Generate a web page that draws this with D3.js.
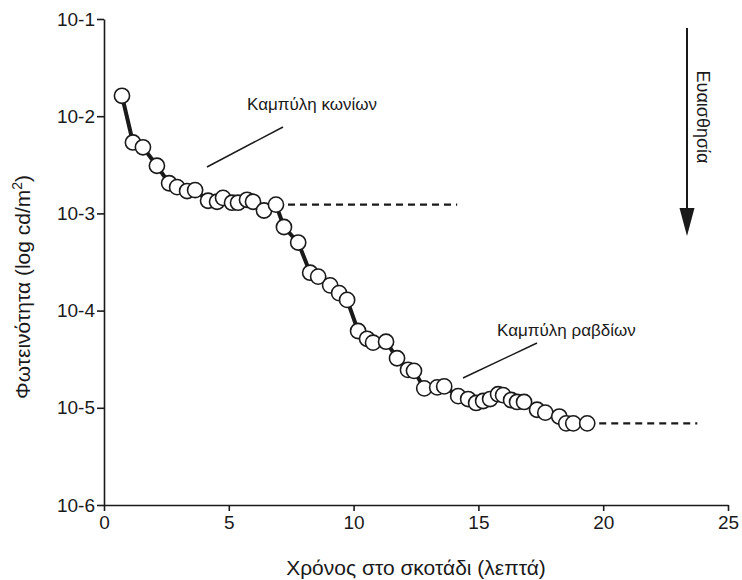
<!DOCTYPE html>
<html>
<head>
<meta charset="utf-8">
<script src="https://cdn.jsdelivr.net/npm/d3@7"></script>
<style>
  html, body { margin: 0; padding: 0; background: #fff; }
  svg { display: block; font-family: "Liberation Sans", Arial, Helvetica, sans-serif; }
</style>
</head>
<body>
<svg id="chart" width="742" height="580"></svg>
<script>
// Time in darkness (minutes)
const minutes = [0.72, 1.16, 1.56, 2.12, 2.61, 2.93, 3.33, 3.65, 4.17, 4.53, 4.77, 5.13, 5.37, 5.73, 5.97, 6.41, 6.89,
  7.21, 7.78, 8.26, 8.58, 9.06, 9.42, 9.74, 10.18, 10.54, 10.78, 11.30, 11.74, 12.18, 12.42, 12.83, 13.35, 13.63,
  14.19, 14.59, 14.91, 15.19, 15.47, 15.79, 15.99, 16.31, 16.55, 16.83, 17.35, 17.68, 18.24, 18.52, 18.80, 19.36];
// Threshold luminance, log10(cd/m²)
const logLuminance = [-1.79, -2.27, -2.32, -2.51, -2.69, -2.73, -2.77, -2.76, -2.87, -2.88, -2.84, -2.89, -2.89, -2.86, -2.88, -2.97, -2.91,
  -3.14, -3.30, -3.61, -3.65, -3.74, -3.82, -3.89, -4.21, -4.29, -4.33, -4.32, -4.49, -4.61, -4.62, -4.80, -4.79, -4.78,
  -4.88, -4.91, -4.95, -4.93, -4.91, -4.86, -4.87, -4.92, -4.94, -4.94, -5.02, -5.05, -5.09, -5.16, -5.16, -5.16];
// Plateau (dashed) lines: [x0, x1, y]
const conePlateau = [6.89, 14.15, -2.91];
const rodPlateau = [19.36, 23.77, -5.16];
// Ticks
const xTicks = [0, 5, 10, 15, 20, 25];
const yTicks = [-6, -5, -4, -3, -2, -1];
const yTickLabels = ["10-6", "10-5", "10-4", "10-3", "10-2", "10-1"];
// Texts
const xTitle = "Χρόνος στο σκοτάδι (λεπτά)";
const yTitleMain = "Φωτεινότητα (log cd/m";
const coneLabel = "Καμπύλη κωνίων";
const rodLabel = "Καμπύλη ραβδίων";
const sensLabel = "Ευαισθησία";

const ink = "#1a1a1a";
const svg = d3.select("#chart");

const x = d3.scaleLinear().domain([0, 25]).range([104, 728]);
const y = d3.scaleLinear().domain([-6, -1]).range([505, 19]);

// Axes
const xAxis = svg.append("g").attr("transform", `translate(0,${y(-6)})`)
  .call(d3.axisBottom(x).tickValues(xTicks).tickSize(6).tickSizeOuter(0).tickPadding(5));
const yAxis = svg.append("g").attr("transform", `translate(${x(0)},0)`)
  .call(d3.axisLeft(y).tickValues(yTicks).tickFormat((d, i) => yTickLabels[i]).tickSize(7).tickSizeOuter(0).tickPadding(2));

[xAxis, yAxis].forEach(g => {
  g.selectAll("path, line").attr("stroke", ink).attr("stroke-width", 1.6);
  g.selectAll("text").attr("fill", ink).style("font-size", "19px");
});

// Axis titles
svg.append("text")
  .attr("x", (x(0) + x(25)) / 2).attr("y", 575)
  .attr("text-anchor", "middle").attr("fill", ink).style("font-size", "21px")
  .text(xTitle);

const yt = svg.append("text")
  .attr("transform", `translate(30,${287}) rotate(-90)`)
  .attr("text-anchor", "middle").attr("fill", ink).style("font-size", "21px");
yt.append("tspan").text(yTitleMain);
yt.append("tspan").attr("dy", -8).style("font-size", "14px").text("2");
yt.append("tspan").attr("dy", 8).text(")");

// Dashed plateau lines
[conePlateau, rodPlateau].forEach(p => {
  svg.append("line")
    .attr("x1", x(p[0])).attr("x2", x(p[1]))
    .attr("y1", y(p[2])).attr("y2", y(p[2]))
    .attr("stroke", ink).attr("stroke-width", 2.2)
    .attr("stroke-dasharray", "7,5");
});

// Data line
const pts = minutes.map((m, i) => [m, logLuminance[i]]);
svg.append("path")
  .datum(pts)
  .attr("d", d3.line().x(d => x(d[0])).y(d => y(d[1])))
  .attr("fill", "none").attr("stroke", ink).attr("stroke-width", 4).attr("stroke-linejoin", "round");

// Data points
svg.append("g").selectAll("circle")
  .data(pts).join("circle")
  .attr("cx", d => x(d[0])).attr("cy", d => y(d[1]))
  .attr("r", 7.6)
  .attr("fill", "#fff").attr("stroke", ink).attr("stroke-width", 1.6);

// Annotations
svg.append("line").attr("x1", 207).attr("y1", 167).attr("x2", 283).attr("y2", 127)
  .attr("stroke", ink).attr("stroke-width", 1.5);
svg.append("text").attr("x", 247).attr("y", 110).attr("fill", ink).style("font-size", "17px").text(coneLabel);

svg.append("line").attr("x1", 463).attr("y1", 378).attr("x2", 537).attr("y2", 343)
  .attr("stroke", ink).attr("stroke-width", 1.5);
svg.append("text").attr("x", 497).attr("y", 336).attr("fill", ink).style("font-size", "17px").text(rodLabel);

// Sensitivity arrow
svg.append("line").attr("x1", 687).attr("x2", 687).attr("y1", 28).attr("y2", 212)
  .attr("stroke", ink).attr("stroke-width", 2);
svg.append("path").attr("d", "M679.5,208 L694.5,208 L687,236 Z").attr("fill", ink);
svg.append("text")
  .attr("transform", "translate(697,117) rotate(90)")
  .attr("text-anchor", "middle").attr("fill", ink).style("font-size", "18px")
  .text(sensLabel);
</script>
</body>
</html>
